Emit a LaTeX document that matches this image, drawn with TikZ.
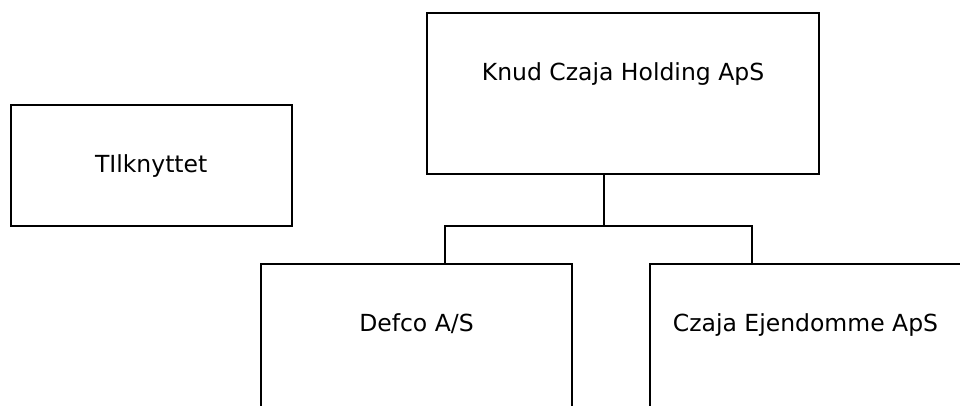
\documentclass[tikz,border=0pt]{standalone}
\usepackage{fontspec}
\setmainfont{DejaVu Sans}
\usepackage{tikz}
\usetikzlibrary{positioning}
\tikzset{x=1pt,y=-1pt,
company/.style={draw, line width=1.8pt, rectangle, minimum height=161pt, inner sep=0pt},
title/.style={label={[anchor=base,yshift=-68.5pt,font=\fontsize{23.5}{28}\selectfont]north:#1}},
link/.style={line width=1.8pt}
}

\begin{document}
\begin{tikzpicture}
\useasboundingbox (0,0) rectangle (960,405);
\clip (0,0) rectangle (960,405);
\node[company, minimum width=281pt, minimum height=121pt, title=TIlknyttet] (tilk) at (151.2,165.5) {};
\node[company, minimum width=392pt, title=Knud Czaja Holding ApS] (holding) at (623,93.5) {};
\node[company, minimum width=311pt, title=Defco A/S] (defco) at (416.5,344.5) {};
\node[company, minimum width=311pt, title=Czaja Ejendomme ApS] (ejendom) at (805.5,344.5) {};
% bus below the holding company
\coordinate (bus) at (604,226);
\coordinate (leftdrop) at (445,226);
\coordinate (rightdrop) at (752,226);
\draw[link] (holding.south -| bus) -- (bus);
\draw[link] (defco.north -| leftdrop) -- (leftdrop) -- (rightdrop) -- (ejendom.north -| rightdrop);
\end{tikzpicture}
\end{document}
